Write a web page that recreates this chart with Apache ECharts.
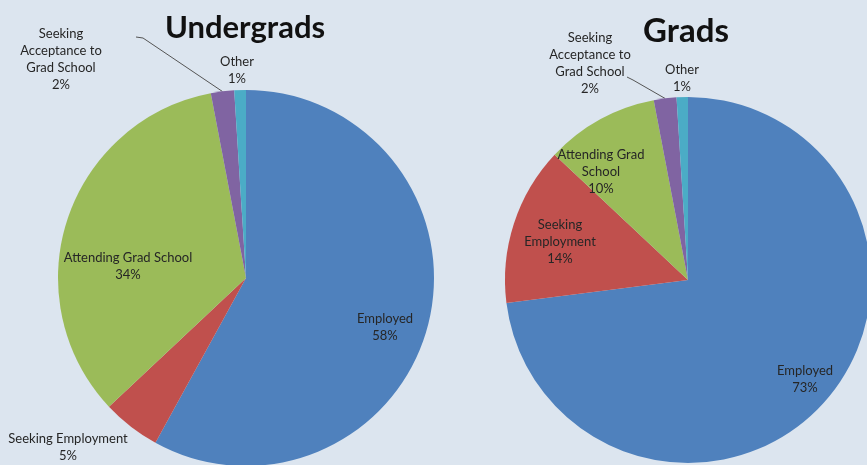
<!DOCTYPE html>
<html>
<head>
<meta charset="utf-8">
<script src="https://cdn.jsdelivr.net/npm/echarts@6/dist/echarts.min.js"></script>
<style>
html,body{margin:0;padding:0;background:#dce5ef;}
#chart{width:867px;height:465px;}
</style>
</head>
<body>
<div id="chart"></div>
<script>
// ---- data ----
const categories = ['Employed', 'Seeking Employment', 'Attending Grad School', 'Seeking Acceptance to Grad School', 'Other'];
const undergradValues = [58, 5, 34, 2, 1];
const gradValues = [73, 14, 10, 2, 1];
const undergradLabelText = ['Employed', 'Seeking Employment', 'Attending Grad School', 'Seeking\nAcceptance to\nGrad School', 'Other'];
const gradLabelText = ['Employed', 'Seeking\nEmployment', 'Attending Grad\nSchool', 'Seeking\nAcceptance to\nGrad School', 'Other'];
const titles = ['Undergrads', 'Grads'];

// ---- styling / layout ----
const colors = ['#4f81bd', '#c0504d', '#9bbb59', '#8064a2', '#4bacc6'];
const labelPos = [
  [[385, 327], [68, 447], [128, 266], [61, 59], [237, 70]],
  [[805, 379], [560, 242], [601, 172], [590, 63], [682, 78]]
];
const leaderEnds = [
  [[143, 38], [136, 37]],
  [[633, 80], [627, 77]]
];
const fontFamily = 'Lato, "Open Sans", sans-serif';

function makeSeries(si, values, texts, center, radius) {
  return {
    type: 'pie',
    center: center,
    radius: radius,
    startAngle: 90,
    clockwise: true,
    avoidLabelOverlap: false,
    animation: false,
    silent: true,
    itemStyle: { borderWidth: 0 },
    label: {
      show: true,
      position: 'outside',
      color: '#262626',
      fontFamily: fontFamily,
      fontSize: 13,
      lineHeight: 17,
      align: 'center',
      formatter: p => texts[p.dataIndex] + '\n' + p.value + '%'
    },
    labelLine: { show: false, lineStyle: { color: '#555', width: 1 }, length: 10, length2: 10 },
    labelLayout: function (params) {
      const pos = labelPos[si][params.dataIndex];
      const res = { x: pos[0], y: pos[1], align: 'center', verticalAlign: 'middle' };
      if (params.dataIndex === 3 && params.labelLinePoints) {
        res.labelLinePoints = [params.labelLinePoints[0]].concat(leaderEnds[si]);
      }
      return res;
    },
    data: categories.map((c, i) => ({
      name: c,
      value: values[i],
      itemStyle: { color: colors[i] },
      labelLine: { show: i === 3 }
    }))
  };
}

const chart = echarts.init(document.getElementById('chart'), null, { renderer: 'canvas' });
chart.setOption({
  backgroundColor: '#dce5ef',
  animation: false,
  title: [
    { text: titles[0], left: 240, top: 7, textAlign: 'center',
      textStyle: { fontFamily: fontFamily, fontWeight: 'bold', fontSize: 31, color: '#111' } },
    { text: titles[1], left: 681, top: 10, textAlign: 'center',
      textStyle: { fontFamily: fontFamily, fontWeight: 'bold', fontSize: 33, color: '#111' } }
  ],
  series: [
    makeSeries(0, undergradValues, undergradLabelText, [246, 278], 188),
    makeSeries(1, gradValues, gradLabelText, [688, 280], 183)
  ]
});
</script>
</body>
</html>
